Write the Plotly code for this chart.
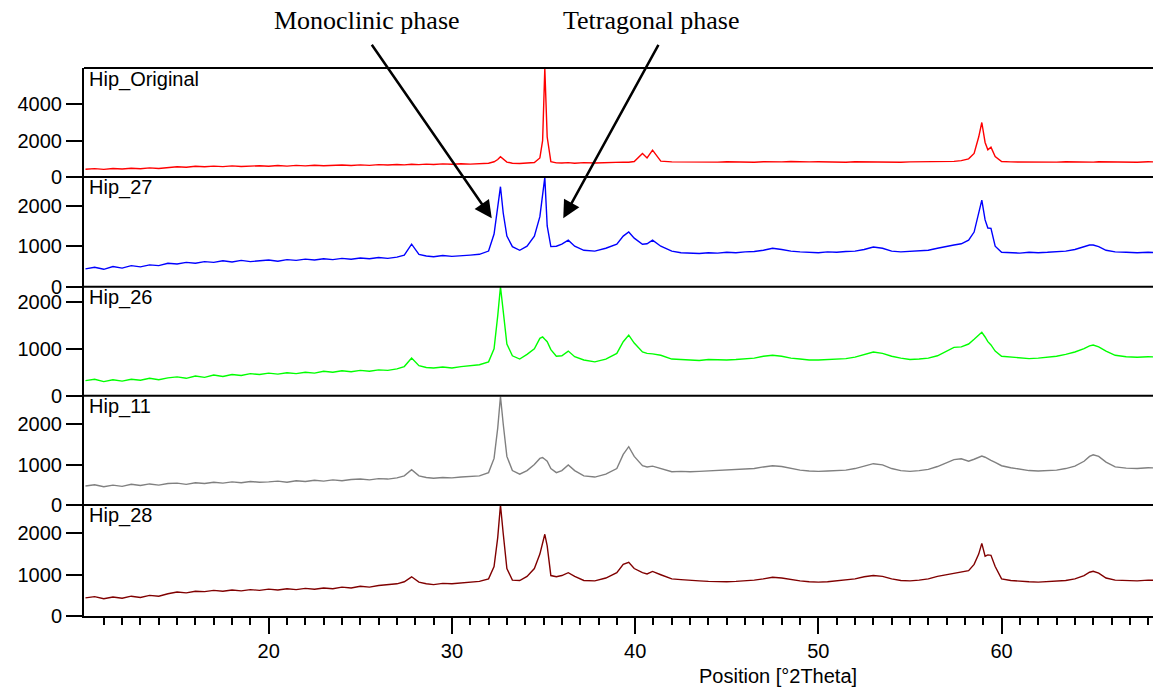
import plotly.graph_objects as go

# 2theta positions (shared by all patterns)
X2T = [
    10.0, 10.5, 11.0, 11.5, 12.0, 12.5, 13.0, 13.5, 14.0, 14.5,
    15.0, 15.5, 16.0, 16.5, 17.0, 17.5, 18.0, 18.5, 19.0, 19.5,
    20.0, 20.5, 21.0, 21.5, 22.0, 22.5, 23.0, 23.5, 24.0, 24.5,
    25.0, 25.5, 26.0, 26.5, 27.0, 27.4, 27.8, 28.2, 28.6, 29.0,
    29.5, 30.0, 30.5, 31.0, 31.5, 32.0, 32.3, 32.5, 32.65, 32.8,
    33.0, 33.3, 33.7, 34.1, 34.5, 34.8, 34.95, 35.07, 35.2, 35.4,
    35.7, 36.0, 36.35, 36.7, 37.2, 37.8, 38.4, 39.0, 39.35, 39.65,
    39.95, 40.4, 40.65, 40.95, 41.4, 42.0, 42.5, 43.0, 43.5, 44.0, 44.5,
    45.0, 45.5, 46.0, 46.5, 47.0, 47.5, 48.0, 48.5, 49.0, 49.5,
    50.0, 50.5, 51.0, 51.5, 52.0, 52.5, 53.0, 53.5, 54.0, 54.5,
    55.0, 55.5, 56.0, 56.5, 57.0, 57.4, 57.8, 58.2, 58.5, 58.75,
    58.92, 59.1, 59.25, 59.42, 59.65, 60.0, 60.5, 61.0, 61.5, 62.0,
    62.5, 63.0, 63.5, 64.0, 64.5, 64.8, 65.0, 65.3, 65.7, 66.2,
    66.8, 67.4, 68.0, 68.7,
]

HIP_ORIGINAL = [
    430, 460, 420, 470, 440, 480, 450, 500, 470, 520,
    560, 540, 590, 560, 600, 570, 610, 580, 600, 620,
    590, 630, 600, 640, 610, 650, 620, 640, 660, 630,
    670, 640, 680, 660, 690, 670, 700, 680, 710, 690,
    720, 700, 730, 710, 740, 760, 840, 960, 1120, 980,
    820, 760, 740, 770, 800, 1050, 2000, 5980, 2200, 850,
    780, 770, 790, 760, 790, 770, 800, 790, 820, 810,
    850, 1300, 1050, 1480, 870, 830, 820, 840, 810, 830, 820,
    840, 820, 830, 810, 840, 820, 830, 850, 820, 830,
    840, 820, 830, 810, 840, 830, 820, 840, 830, 810,
    830, 840, 820, 830, 850, 860, 900, 1000, 1300, 2200,
    3000, 1900, 1500, 1640, 1130, 850, 830, 820, 840, 810,
    830, 820, 840, 830, 810, 830, 820, 840, 830, 820,
    830, 810, 840, 820,
]

HIP_27 = [
    440, 480, 430, 500, 460, 520, 490, 540, 520, 580,
    560, 600, 580, 620, 600, 640, 610, 650, 620, 640,
    660, 630, 670, 650, 680, 660, 690, 670, 700, 680,
    710, 690, 720, 700, 730, 780, 1050, 800, 760, 740,
    770, 750, 760, 780, 800, 880, 1300, 1900, 2470, 1820,
    1250, 990, 900, 1000, 1250, 1730, 2200, 2700, 1500, 990,
    1000, 1050, 1150, 1000, 900, 880, 950, 1050, 1250, 1350,
    1200, 1050, 1060, 1150, 1000, 880, 840, 830, 820, 840, 830,
    850, 840, 860, 870, 900, 950, 920, 880, 860, 850,
    840, 860, 850, 870, 880, 920, 980, 950, 880, 860,
    870, 880, 900, 950, 1000, 1030, 1060, 1150, 1350, 1800,
    2140, 1650, 1450, 1440, 1000, 850, 840, 830, 850, 840,
    850, 860, 880, 920, 980, 1030, 1030, 990, 900, 860,
    850, 840, 850, 840,
]

HIP_26 = [
    320, 350, 300, 340, 310, 350, 330, 370, 340, 380,
    400, 370, 420, 390, 440, 410, 450, 430, 470, 450,
    480, 460, 490, 470, 500, 480, 520, 500, 530, 510,
    540, 520, 550, 540, 570, 620, 800, 640, 600, 590,
    610, 590, 620, 640, 660, 720, 1000, 1700, 2320, 1800,
    1100, 850, 780, 880, 1000, 1220, 1250, 1200, 1150, 980,
    840, 850, 950, 830, 760, 720, 780, 900, 1150, 1290,
    1120, 930, 900, 890, 860, 780, 770, 760, 750, 770, 760,
    760, 770, 780, 800, 840, 860, 840, 800, 780, 760,
    760, 770, 780, 790, 820, 880, 930, 900, 840, 800,
    770, 780, 800, 850, 950, 1030, 1040, 1100, 1200, 1300,
    1350, 1250, 1150, 1080, 950, 840, 820, 800, 790, 800,
    820, 840, 880, 930, 1000, 1060, 1080, 1040, 950, 860,
    830, 820, 830, 820,
]

HIP_11 = [
    470, 500, 450, 490, 460, 510, 480, 520, 490, 530,
    540, 510, 550, 530, 560, 540, 570, 550, 580, 560,
    570, 590, 560, 600, 580, 610, 590, 620, 600, 630,
    640, 620, 650, 640, 670, 720, 870, 720, 680, 660,
    680, 670, 690, 700, 720, 800, 1150, 1900, 2680, 2000,
    1200, 850, 760, 850, 1000, 1150, 1170, 1130, 1080, 900,
    800, 850, 990, 850, 720, 690, 760, 900, 1250, 1440,
    1200, 970, 940, 960, 900, 820, 830, 820, 830, 840, 850,
    860, 870, 880, 900, 940, 970, 950, 900, 860, 840,
    830, 840, 850, 860, 900, 960, 1020, 990, 900, 850,
    830, 850, 880, 950, 1050, 1120, 1140, 1080, 1130, 1180,
    1210, 1180, 1150, 1100, 1050, 970, 920, 880, 850, 840,
    850, 860, 900, 960, 1080, 1200, 1240, 1200, 1060, 940,
    910, 900, 920, 910,
]

HIP_28 = [
    440, 470, 420, 460, 430, 480, 450, 500, 480, 540,
    580, 560, 600, 590, 620, 600, 630, 610, 640, 620,
    650, 630, 660, 640, 670, 650, 680, 660, 700, 680,
    720, 700, 740, 760, 780, 830, 950, 820, 780, 760,
    790, 780, 800, 820, 840, 900, 1200, 1900, 2690, 2000,
    1150, 870, 860, 960, 1150, 1500, 1800, 1980, 1700, 980,
    950, 980, 1050, 960, 860, 850, 920, 1050, 1250, 1300,
    1150, 1050, 1020, 1080, 1000, 900, 880, 860, 850, 840, 830,
    830, 840, 850, 870, 900, 940, 920, 880, 850, 830,
    820, 830, 850, 870, 900, 950, 980, 960, 900, 860,
    850, 870, 900, 960, 1000, 1030, 1050, 1100, 1250, 1500,
    1760, 1450, 1480, 1470, 1200, 900, 860, 840, 830, 820,
    830, 840, 860, 900, 980, 1060, 1085, 1040, 920, 870,
    860, 850, 870, 860,
]

SERIES_NAMES = ["Hip_Original", "Hip_27", "Hip_26", "Hip_11", "Hip_28"]
SERIES = [HIP_ORIGINAL, HIP_27, HIP_26, HIP_11, HIP_28]
COLORS = ["#ff0000", "#0000ff", "#00ff00", "#808080", "#800000"]
Y_MAX = [6000, 2710, 2320, 2700, 2690]
Y_TICKS = [[0, 2000, 4000], [0, 1000, 2000], [0, 1000, 2000], [0, 1000, 2000], [0, 1000, 2000]]
X_TICKS = [20, 30, 40, 50, 60]
X_RANGE = [9.92, 68.7]
X_TITLE = "Position [°2Theta]"
PHASE_LABELS = ["Monoclinic phase", "Tetragonal phase"]

DOMAINS = [[0.8011, 1.0], [0.6009, 0.8011], [0.4020, 0.6009], [0.2026, 0.4020], [0.0, 0.2026]]

SANS = "Liberation Sans, Arial, sans-serif"
SERIF = "Liberation Serif, Times New Roman, serif"

fig = go.Figure()
for i, (name, vals, col) in enumerate(zip(SERIES_NAMES, SERIES, COLORS)):
    yname = "y" if i == 0 else f"y{i+1}"
    fig.add_trace(go.Scatter(x=X2T, y=vals, mode="lines", name=name,
                             line=dict(color=col, width=1.4),
                             xaxis="x", yaxis=yname, showlegend=False,
                             hoverinfo="x+y"))

# the page body has an 8px default margin, so the figure is 8px smaller
layout = dict(
    template="none",
    width=1153, height=683,
    margin=dict(l=76, r=0, t=60, b=75, autoexpand=False),
    paper_bgcolor="white", plot_bgcolor="white",
    font=dict(family=SANS, size=20, color="black"),
    showlegend=False,
)

minor_vals = [v for v in range(11, 69) if v % 10 != 0]
layout["xaxis"] = dict(
    domain=[0, 1], anchor="y5", range=X_RANGE, automargin=False,
    tickmode="array", tickvals=X_TICKS,
    ticks="outside", ticklen=16, tickwidth=1.5, tickcolor="black",
    showline=True, linecolor="black", linewidth=2,
    showgrid=False, zeroline=False,
    tickfont=dict(family=SANS, size=20, color="black"),
    minor=dict(tickmode="array", tickvals=minor_vals, ticks="outside",
               ticklen=7, tickwidth=1.5, tickcolor="black", showgrid=False),
)
for i in range(5):
    key = "yaxis" if i == 0 else f"yaxis{i+1}"
    layout[key] = dict(
        domain=DOMAINS[i], anchor="x", range=[0, Y_MAX[i]], automargin=False,
        tickmode="array", tickvals=Y_TICKS[i],
        ticks="outside", ticklen=16, tickwidth=1.5, tickcolor="black",
        showline=True, linecolor="black", linewidth=2,
        showgrid=False, zeroline=False,
        tickfont=dict(family=SANS, size=20, color="black"),
    )

shapes = []
for d in DOMAINS:
    shapes.append(dict(type="line", xref="paper", yref="paper",
                       x0=0, x1=1, y0=d[1], y1=d[1],
                       line=dict(color="black", width=2)))
layout["shapes"] = shapes

annotations = []
for i, name in enumerate(SERIES_NAMES):
    annotations.append(dict(text=name, xref="paper", yref="paper",
                            x=0, y=DOMAINS[i][1], xanchor="left", yanchor="middle",
                            xshift=3, yshift=-11, showarrow=False,
                            font=dict(family=SANS, size=20, color="black")))
annotations.append(dict(text=X_TITLE, xref="paper", yref="paper",
                        x=0.644, y=-0.1095, xanchor="center", yanchor="middle",
                        showarrow=False, font=dict(family=SANS, size=20, color="black")))
# phase labels
annotations.append(dict(text=PHASE_LABELS[0], xref="paper", yref="paper",
                        x=0.2625, y=1.0858, xanchor="center", yanchor="middle",
                        showarrow=False, font=dict(family=SERIF, size=26, color="black")))
annotations.append(dict(text=PHASE_LABELS[1], xref="paper", yref="paper",
                        x=0.5265, y=1.0858, xanchor="center", yanchor="middle",
                        showarrow=False, font=dict(family=SERIF, size=26, color="black")))
# arrows
annotations.append(dict(text="", xref="paper", yref="paper", x=0.3786, y=0.7257,
                        ax=-121, ay=-175, showarrow=True, arrowhead=2,
                        arrowsize=1.4, arrowwidth=2.5, arrowcolor="black"))
annotations.append(dict(text="", xref="paper", yref="paper", x=0.4450, y=0.7257,
                        ax=96, ay=-175, showarrow=True, arrowhead=2,
                        arrowsize=1.4, arrowwidth=2.5, arrowcolor="black"))
layout["annotations"] = annotations

fig.update_layout(**layout)
fig.write_html("out.html")
